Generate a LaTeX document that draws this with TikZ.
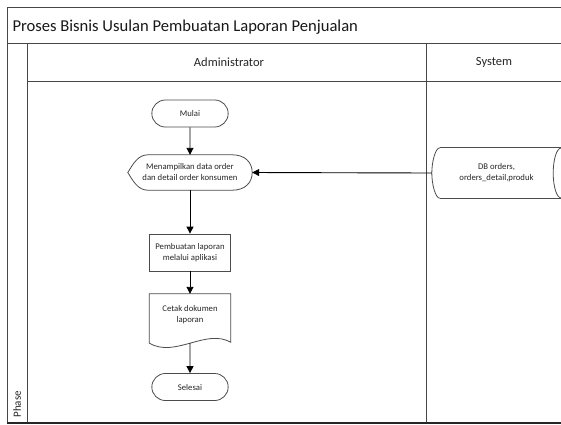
\documentclass[tikz,border=0pt]{standalone}
\usepackage{fontspec}
\setmainfont{Carlito}
\usetikzlibrary{arrows.meta,shapes.misc,calc}
\begin{document}
\begin{tikzpicture}[x=1pt,y=-1pt,
  frame/.style={draw=black!72, line width=0.9pt},
  shapeline/.style={draw=black!70, line width=0.8pt},
  lbl/.style={font=\fontsize{8.7}{11}\selectfont, align=center, text=black!85},
  term/.style={rounded rectangle, shapeline, minimum width=83pt, minimum height=27pt, lbl},
  proc/.style={rectangle, shapeline, minimum width=81pt, minimum height=37pt, lbl},
  flow/.style={-{Triangle[length=7pt,width=7pt]}, line width=0.9pt, black},
  hdr/.style={font=\fontsize{12.5}{14}\selectfont, text=black!85},
]
\useasboundingbox (0,0) rectangle (561,424);
\fill[white] (0,0) rectangle (561,424);
\clip (0,0) rectangle (561,424);

% pool frame and lanes
\draw[frame] (561,7) -- (7,7) -- (7,423);
\draw[frame] (7,43) -- (561,43);
\draw[frame] (27,43) -- (27,423);
\draw[frame] (27,81) -- (561,81);
\draw[frame] (426,43) -- (426,423);
\draw[black!85, line width=2pt] (7,423) -- (561,423);

% headings
\node[anchor=west, font=\fontsize{16.6}{18}\selectfont, text=black!90] (title) at (9,27.5) {Proses Bisnis Usulan Pembuatan Laporan Penjualan};
\node[hdr] (admin) at (229,62) {Administrator};
\node[hdr] (sys) at (494,62) {System};
\node[font=\fontsize{11}{13}\selectfont, text=black!85, rotate=90, anchor=west] (phase) at (17,421) {Phase};

% start
\node[term] (mulai) at (190,113.5) {Mulai};

% display
\node[minimum width=124pt, minimum height=35pt, lbl, inner sep=0] (disp) at (190,172.5)
  {Menampilkan data order\\dan detail order konsumen};
\draw[shapeline]
  ($(disp.north west)+(20,0)$) -- ($(disp.north east)+(-20,0)$)
  .. controls ($(disp.north east)+(-7,0)$) and ($(disp.east)+(0,-10)$) .. (disp.east)
  .. controls ($(disp.east)+(0,10)$) and ($(disp.south east)+(-7,0)$) .. ($(disp.south east)+(-20,0)$)
  -- ($(disp.south west)+(20,0)$)
  .. controls ($(disp.south west)+(10,0)$) and ($(disp.west)+(5,8)$) .. (disp.west)
  .. controls ($(disp.west)+(5,-8)$) and ($(disp.north west)+(10,0)$) .. cycle;

% process
\node[proc] (proc) at (190,252.5) {Pembuatan laporan\\melalui aplikasi};

% document
\node[minimum width=81pt, minimum height=42pt, lbl, inner sep=0] (doc) at (190,315)
  {Cetak dokumen\\laporan};
\draw[shapeline]
  (doc.north west) -- (doc.north east) -- ($(doc.south east)+(0,6)$)
  .. controls ($(doc.south east)+(-25,-8)$) and ($(doc.south west)+(26,22)$) .. ($(doc.south west)+(0,7)$)
  -- cycle;
\coordinate (docb) at ($(doc.south)+(0,7)$);

% end
\node[term] (selesai) at (190,387) {Selesai};

% data store
\node[minimum width=129pt, minimum height=50pt, lbl, inner sep=0] (db) at (496.5,173)
  {DB orders,\\orders\_detail,produk};
\draw[shapeline] ($(db.north west)+(8,0)$) -- ($(db.north east)+(10,0)$);
\draw[shapeline] ($(db.south west)+(8,0)$) -- ($(db.south east)+(10,0)$);
\draw[shapeline] ($(db.north west)+(8,0)$)
  .. controls ($(db.north west)+(3.6,0)$) and ($(db.west)+(0,-11.2)$) .. (db.west)
  .. controls ($(db.west)+(0,11.2)$) and ($(db.south west)+(3.6,0)$) .. ($(db.south west)+(8,0)$);
\draw[shapeline] (db.east) ellipse [x radius=8, y radius=25];

% connectors
\draw[flow] (mulai) -- (disp);
\draw[flow] (disp) -- (proc);
\draw[flow] (proc) -- (doc);
\draw[flow] (docb) -- (selesai);
\draw[flow] (db.west) -- (disp.east);
\end{tikzpicture}
\end{document}
